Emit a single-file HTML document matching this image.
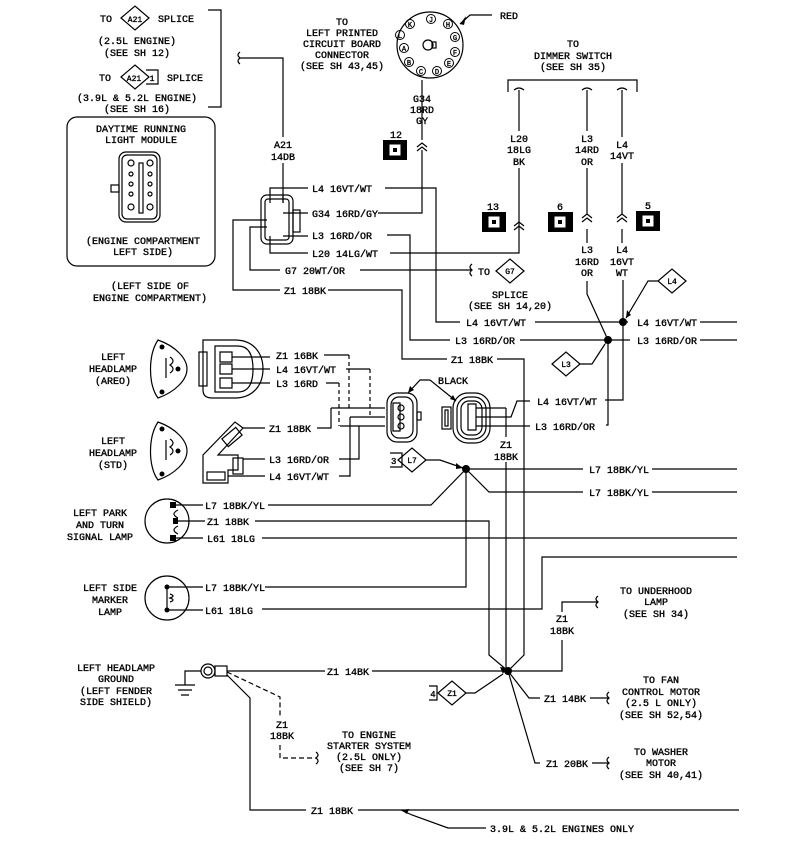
<!DOCTYPE html>
<html><head><meta charset="utf-8"><style>
html,body{margin:0;padding:0;background:#fff;}
svg{display:block;}
text{font-family:"Liberation Mono",monospace;font-size:10px;fill:#000;stroke:#000;stroke-width:0.35;}
.c{text-anchor:middle;}
</style></head><body>
<svg width="793" height="851" viewBox="0 0 793 851" xmlns="http://www.w3.org/2000/svg">
<g fill="none" stroke="#000" stroke-width="1.2">
<path d="M208 10H221V107H208"/>
<path d="M121 18L135 6L149 18L135 30Z"/>
<path d="M121 77L135 65L149 77L135 89Z"/><path d="M146 70H158V84H146"/>
<path d="M240 52q-4 3 0 6q-4 3 0 6M240 58H283V137M283 163V203"/>
<rect x="67" y="117" width="148" height="149" rx="10"/>
<rect x="119" y="152" width="41" height="70" rx="7"/><rect x="122" y="155" width="35" height="64" rx="5"/>
<rect x="111" y="185" width="8" height="7"/><rect x="139" y="163" width="4" height="50"/>
<circle cx="131" cy="163" r="3"/><circle cx="131" cy="174" r="2"/><circle cx="131" cy="184" r="2"/><circle cx="131" cy="194" r="2"/><circle cx="131" cy="207" r="3"/>
<circle cx="150" cy="163" r="3"/><circle cx="150" cy="174" r="2"/><circle cx="150" cy="184" r="2"/><circle cx="150" cy="194" r="2"/><circle cx="150" cy="207" r="3"/>
<rect x="261" y="195" width="32" height="49" rx="6"/><rect x="265" y="199" width="24" height="41" rx="3"/>
<rect x="293" y="210" width="7" height="22"/>
<path d="M270 203V188H308M283 203V195M283 213H308M283 236H308M270 236V253H308M267 227H250V270H280M267 220H233V290H280"/>
<path d="M385 188H436V322H460M535 322H628"/>
<path d="M378 213H422V150M422 140V80"/>
<path d="M387 235H410V340H450M520 340H605"/>
<path d="M390 253H519V232"/>
<path d="M360 270H472M472 264q-4 3 0 6q-4 3 0 6"/>
<path d="M496 271L510 259L524 271L510 283Z"/>
<path d="M328 290H402V359H447M497 359H524V655L508 671"/>
<circle cx="430" cy="45" r="33"/><circle cx="428" cy="45" r="5"/><rect x="432" y="42" width="4" height="6"/>
<g stroke-width="1"><circle cx="410" cy="24" r="4.5"/><circle cx="431" cy="19" r="4.5"/><circle cx="448" cy="24" r="4.5"/><circle cx="400" cy="35" r="4.5"/><circle cx="455" cy="37" r="4.5"/><circle cx="404" cy="48" r="4.5"/><circle cx="455" cy="52" r="4.5"/><circle cx="409" cy="62" r="4.5"/><circle cx="421" cy="71" r="4.5"/><circle cx="437" cy="71" r="4.5"/><circle cx="449" cy="63" r="4.5"/></g>
<path d="M492 15H470L460 24"/>
<path d="M508 92V80H637V92"/>
<path d="M514 90q5-4 10 0M582 90q5-4 10 0M617 90q5-4 10 0"/>
<path d="M519 90V131M519 168V232M587 90V131M587 168V215M587 229V243M622 90V137M622 163V215M622 229V243"/>
<path d="M417 147l5-4l5 4M417 151l5-4l5 4M514 226l5-4l5 4M514 230l5-4l5 4M582 218l5-4l5 4M582 222l5-4l5 4M617 218l5-4l5 4M617 222l5-4l5 4"/>
<path d="M587 281V294L608 340V425H606"/>
<path d="M623 280V400H605"/>
<path d="M608 340H630M700 322H737M700 340H737"/>
<path d="M658 281L672 269L686 281L672 293Z"/><path d="M658 281H648L626 318"/>
<path d="M552 364L566 352L580 364L566 376Z"/><path d="M580 364H592L605 344"/>
<path d="M158 340C148 355 148 385 158 398C175 392 187 380 187 369C187 358 175 346 158 340Z"/>
<path d="M170 357q6 4 0 8q6 4 0 8M166 358v20"/>
<path d="M158 422C148 437 148 467 158 480C175 474 187 462 187 451C187 440 175 428 158 422Z"/>
<path d="M170 439q6 4 0 8q6 4 0 8M166 440v20"/>
<path d="M203 340H235C255 340 263 355 263 369C263 385 253 398 235 398H212Q203 398 203 390Z"/>
<rect x="199" y="352" width="8" height="34"/>
<path d="M215 346H238Q253 346 253 369Q253 392 238 392H215Z"/>
<path d="M220 352H232V362H220ZM220 364H232V374H220ZM220 378H232V388H220Z"/>
<path d="M232 357H270M232 369H270M232 383H270"/>
<path d="M203 483V455L235 422L243 428L218 455L238 455V470H228V483Z"/>
<rect x="223" y="432" width="18" height="10" transform="rotate(-40 232 437)"/>
<rect x="233" y="458" width="10" height="16"/><rect x="207" y="472" width="18" height="8"/>
<path d="M243 428H265M243 459H265M228 476H265"/>
<path d="M324 355H349M317 428H331V408M346 369H370M339 459H359V426M326 383H339M339 476H350"/>
<path d="M349 355V408M339 383V426M370 369V417" stroke-dasharray="4 3"/>
<path d="M349 476H350V417"/>
<path d="M331 408H385M350 417H385M340 426H385"/>
<rect x="387" y="393" width="30" height="49" rx="10"/><rect x="391" y="397" width="22" height="41" rx="8"/>
<rect x="417" y="412" width="4" height="8"/>
<path d="M393 403H400V431H393Z"/><circle cx="401" cy="408" r="3"/><circle cx="401" cy="417" r="3"/><circle cx="401" cy="426" r="3"/>
<rect x="453" y="393" width="37" height="50" rx="15"/><rect x="457" y="397" width="29" height="42" rx="12"/><rect x="461" y="401" width="21" height="34" rx="8"/>
<rect x="442" y="407" width="9" height="22"/><rect x="445" y="410" width="3" height="16"/>
<path d="M468 404H476V430H468Z"/>
<path d="M476 408H506M476 426H530M476 417H511L517 401H530"/>
<path d="M430 380H420L408 393M430 380L456 401"/>
<path d="M506 408V437M506 462V671"/>
<path d="M390 453H402V467H390"/><path d="M398 460L412 448L426 460L412 472Z"/>
<path d="M426 460H440L463 468M466 469H583M466 469L489 492H583M466 469L431 505H268M466 469V587H265"/>
<path d="M652 469H737M652 492H737"/>
<circle cx="167" cy="521" r="22"/>
<path d="M170 505H203M176 521H205M170 538H203M178 510q-8 4 0 8M178 526q-8 4 0 8"/>
<path d="M255 521H489V655L508 671"/>
<path d="M262 538H737"/>
<path d="M737 557H542V609H262"/>
<circle cx="167" cy="598" r="22"/>
<path d="M167 587H203M167 610H203M167 587V610M170 594q6 2 0 4q6 2 0 4"/>
<path d="M185 685V671H201M175 685H195M178 690H192M181 695H189"/>
<circle cx="208" cy="671" r="7"/><circle cx="208" cy="671" r="4"/><rect x="215" y="666" width="12" height="10"/>
<path d="M227 671H325M372 671H562V640M562 612V602H598M598 596q-4 3 0 6q-4 3 0 6"/>
<path d="M227 675L250 698V810H306M358 810H739"/>
<path d="M227 672L280 697V718M280 745V758H316" stroke-dasharray="5 3"/>
<path d="M316 752q4 3 0 6q4 3 0 6"/>
<path d="M401 810L412 815L448 828H486"/>
<path d="M429 686H437V700H429"/><path d="M438 693L452 681L466 693L452 705Z"/>
<path d="M466 693H475L503 674M508 671L529 698H540M590 698H609M609 692q-4 3 0 6q-4 3 0 6M508 671L535 763H540M592 763H609M609 757q-4 3 0 6q-4 3 0 6"/>
</g>
<g fill="#000">
<circle cx="623" cy="322" r="4"/><circle cx="608" cy="340" r="4"/><circle cx="466" cy="469" r="4"/><circle cx="508" cy="671" r="4"/>
<path d="M460 24l6-8l-2 9z"/><path d="M626 318l1-8l4 5z"/><path d="M605 344l1-8l4 5z"/><path d="M463 468l-7-5l0 6z"/><path d="M503 674l-3-7l6 1z"/>
<path d="M408 393l2-7l4 4z"/><path d="M456 401l-6-2l3-4z"/><path d="M401 810l8-1l-2 5z"/>
<circle cx="162" cy="347" r="2.5"/><circle cx="178" cy="369" r="2.5"/><circle cx="162" cy="392" r="2.5"/>
<circle cx="162" cy="429" r="2.5"/><circle cx="178" cy="451" r="2.5"/><circle cx="162" cy="474" r="2.5"/>
<circle cx="167" cy="587" r="2.5"/><circle cx="167" cy="610" r="2.5"/>
<rect x="170" y="502" width="6" height="6"/><rect x="173" y="518" width="5" height="6"/><rect x="170" y="535" width="6" height="6"/>
<rect x="383" y="140" width="24" height="20"/><rect x="482" y="212" width="24" height="20"/><rect x="548" y="212" width="25" height="20"/><rect x="636" y="211" width="24" height="20"/>
</g>
<g fill="#fff" stroke="#000" stroke-width="1">
<rect x="389" y="144" width="12" height="12"/><rect x="488" y="216" width="12" height="12"/><rect x="554" y="216" width="12" height="12"/><rect x="642" y="215" width="12" height="12"/>
</g>
<g fill="#000"><rect x="393" y="148" width="4" height="4"/><rect x="492" y="220" width="4" height="4"/><rect x="558" y="220" width="4" height="4"/><rect x="646" y="219" width="4" height="4"/></g>
<g style="font-size:7px">
<text x="410" y="27" class="c" style="font-size:7px">K</text><text x="431" y="22" class="c" style="font-size:7px">J</text><text x="448" y="27" class="c" style="font-size:7px">H</text>
<text x="400" y="38" class="c" style="font-size:7px">L</text><text x="455" y="40" class="c" style="font-size:7px">G</text><text x="404" y="51" class="c" style="font-size:7px">A</text><text x="455" y="55" class="c" style="font-size:7px">F</text>
<text x="409" y="65" class="c" style="font-size:7px">B</text><text x="421" y="74" class="c" style="font-size:7px">C</text><text x="437" y="74" class="c" style="font-size:7px">D</text><text x="449" y="66" class="c" style="font-size:7px">E</text>
</g>
<g>
<text x="100" y="22">TO</text><text x="135" y="22" class="c" style="font-size:8px">A21</text><text x="158" y="22">SPLICE</text>
<text x="137" y="44" class="c">(2.5L ENGINE)</text><text x="137" y="56" class="c">(SEE SH 12)</text>
<text x="99" y="81">TO</text><text x="134" y="81" class="c" style="font-size:8px">A21</text><text x="152" y="81" class="c" style="font-size:8px">1</text><text x="167" y="81">SPLICE</text>
<text x="137" y="101" class="c">(3.9L &amp; 5.2L ENGINE)</text><text x="137" y="112" class="c">(SEE SH 16)</text>
<text x="141" y="132" class="c">DAYTIME RUNNING</text><text x="141" y="143" class="c">LIGHT MODULE</text>
<text x="143" y="244" class="c">(ENGINE COMPARTMENT</text><text x="143" y="255" class="c">LEFT SIDE)</text>
<text x="150" y="289" class="c">(LEFT SIDE OF</text><text x="150" y="301" class="c">ENGINE COMPARTMENT)</text>
<text x="283" y="148" class="c">A21</text><text x="283" y="160" class="c">14DB</text>
<text x="312" y="192">L4 16VT/WT</text><text x="312" y="217">G34 16RD/GY</text><text x="312" y="239">L3 16RD/OR</text>
<text x="312" y="257">L20 14LG/WT</text><text x="285" y="274">G7 20WT/OR</text><text x="284" y="294">Z1 18BK</text>
<text x="342" y="25" class="c">TO</text><text x="342" y="36" class="c">LEFT PRINTED</text><text x="342" y="47" class="c">CIRCUIT BOARD</text><text x="342" y="58" class="c">CONNECTOR</text><text x="342" y="69" class="c">(SEE SH 43,45)</text>
<text x="500" y="19">RED</text>
<text x="422" y="102" class="c">G34</text><text x="422" y="113" class="c">18RD</text><text x="422" y="124" class="c">GY</text>
<text x="396" y="138" class="c">12</text><text x="493" y="210" class="c">13</text><text x="560" y="210" class="c">6</text><text x="648" y="209" class="c">5</text>
<text x="573" y="47" class="c">TO</text><text x="573" y="59" class="c">DIMMER SWITCH</text><text x="573" y="70" class="c">(SEE SH 35)</text>
<text x="519" y="142" class="c">L20</text><text x="519" y="153" class="c">18LG</text><text x="519" y="165" class="c">BK</text>
<text x="587" y="142" class="c">L3</text><text x="587" y="153" class="c">14RD</text><text x="587" y="165" class="c">OR</text>
<text x="622" y="148" class="c">L4</text><text x="622" y="159" class="c">14VT</text>
<text x="587" y="253" class="c">L3</text><text x="587" y="265" class="c">16RD</text><text x="587" y="276" class="c">OR</text>
<text x="622" y="253" class="c">L4</text><text x="622" y="265" class="c">16VT</text><text x="622" y="276" class="c">WT</text>
<text x="478" y="275">TO</text><text x="510" y="274" class="c" style="font-size:8px">G7</text>
<text x="510" y="298" class="c">SPLICE</text><text x="510" y="309" class="c">(SEE SH 14,20)</text>
<text x="672" y="284" class="c" style="font-size:8px">L4</text><text x="566" y="367" class="c" style="font-size:8px">L3</text>
<text x="466" y="326">L4 16VT/WT</text><text x="637" y="326">L4 16VT/WT</text>
<text x="455" y="344">L3 16RD/OR</text><text x="637" y="344">L3 16RD/OR</text>
<text x="451" y="363">Z1 18BK</text>
<text x="113" y="360" class="c">LEFT</text><text x="113" y="372" class="c">HEADLAMP</text><text x="113" y="384" class="c">(AREO)</text>
<text x="113" y="444" class="c">LEFT</text><text x="113" y="456" class="c">HEADLAMP</text><text x="113" y="468" class="c">(STD)</text>
<text x="276" y="359">Z1 16BK</text><text x="276" y="373">L4 16VT/WT</text><text x="276" y="387">L3 16RD</text>
<text x="269" y="432">Z1 18BK</text><text x="269" y="463">L3 16RD/OR</text><text x="269" y="480">L4 16VT/WT</text>
<text x="438" y="384">BLACK</text>
<text x="537" y="405">L4 16VT/WT</text><text x="535" y="430">L3 16RD/OR</text>
<text x="506" y="448" class="c">Z1</text><text x="506" y="460" class="c">18BK</text>
<text x="391" y="464" style="font-size:9px">3</text><text x="412" y="463" class="c" style="font-size:8px">L7</text>
<text x="589" y="473">L7 18BK/YL</text><text x="589" y="496">L7 18BK/YL</text>
<text x="100" y="516" class="c">LEFT PARK</text><text x="100" y="528" class="c">AND TURN</text><text x="100" y="540" class="c">SIGNAL LAMP</text>
<text x="205" y="509">L7 18BK/YL</text><text x="207" y="525">Z1 18BK</text><text x="207" y="542">L61 18LG</text>
<text x="110" y="591" class="c">LEFT SIDE</text><text x="110" y="603" class="c">MARKER</text><text x="110" y="615" class="c">LAMP</text>
<text x="205" y="591">L7 18BK/YL</text><text x="205" y="614">L61 18LG</text>
<text x="656" y="594" class="c">TO UNDERHOOD</text><text x="656" y="605" class="c">LAMP</text><text x="656" y="617" class="c">(SEE SH 34)</text>
<text x="562" y="622" class="c">Z1</text><text x="562" y="634" class="c">18BK</text>
<text x="116" y="671" class="c">LEFT HEADLAMP</text><text x="116" y="682" class="c">GROUND</text><text x="116" y="694" class="c">(LEFT FENDER</text><text x="116" y="705" class="c">SIDE SHIELD)</text>
<text x="327" y="675">Z1 14BK</text>
<text x="433" y="697" style="font-size:9px" class="c">4</text><text x="452" y="696" class="c" style="font-size:8px">Z1</text>
<text x="544" y="702">Z1 14BK</text><text x="546" y="767">Z1 20BK</text>
<text x="661" y="683" class="c">TO FAN</text><text x="661" y="695" class="c">CONTROL MOTOR</text><text x="661" y="706" class="c">(2.5 L ONLY)</text><text x="661" y="718" class="c">(SEE SH 52,54)</text>
<text x="661" y="755" class="c">TO WASHER</text><text x="661" y="766" class="c">MOTOR</text><text x="661" y="778" class="c">(SEE SH 40,41)</text>
<text x="282" y="728" class="c">Z1</text><text x="282" y="739" class="c">18BK</text>
<text x="369" y="738" class="c">TO ENGINE</text><text x="369" y="749" class="c">STARTER SYSTEM</text><text x="369" y="760" class="c">(2.5L ONLY)</text><text x="369" y="771" class="c">(SEE SH 7)</text>
<text x="311" y="814">Z1 18BK</text>
<text x="490" y="832">3.9L &amp; 5.2L ENGINES ONLY</text>
</g>
</svg>
</body></html>
